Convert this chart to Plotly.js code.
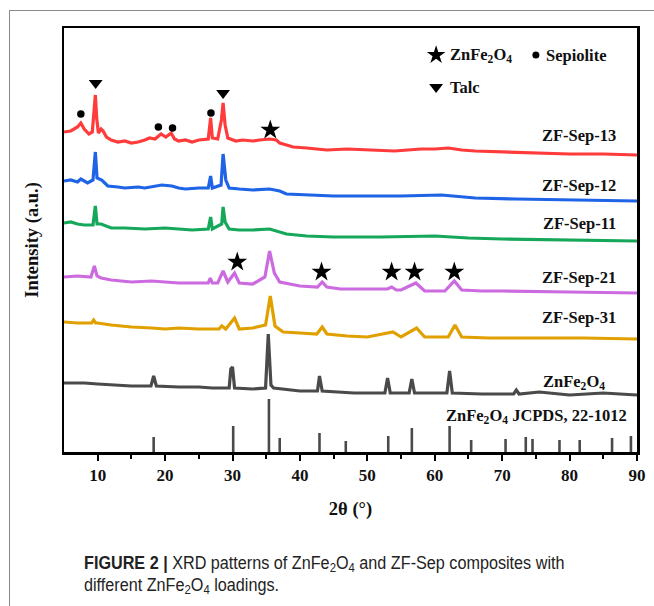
<!DOCTYPE html>
<html>
<head>
<meta charset="utf-8">
<script src="https://cdn.plot.ly/plotly-3.0.1.min.js"></script>
<style>
  html, body { margin: 0; padding: 0; background: #fff; }
  #wrap { position: relative; width: 654px; height: 606px; overflow: hidden; }
  #frameTop { position: absolute; left: 9px; top: 10px; width: 645px; height: 0; border-top: 1px solid #8a8a8a; }
  #frameLeft { position: absolute; left: 9px; top: 10px; width: 0; height: 596px; border-left: 1px solid #8a8a8a; }
  #chart { position: absolute; left: 0; top: 0; width: 654px; height: 606px; }
  #caption { position: absolute; left: 84px; top: 552px; width: 620px;
    font-family: 'Liberation Sans', Arial, sans-serif;
    font-size: 17.5px; line-height: 22px; color: #222;
    transform: scaleX(0.925); transform-origin: 0 0; }
  #caption b { font-weight: bold; }
  #caption sub { font-size: 70%; vertical-align: -0.25em; line-height: 0; }
</style>
</head>
<body>
<div id="wrap">
  <div id="chart"></div>
  <div id="frameTop"></div>
  <div id="frameLeft"></div>
  <div id="caption"><b>FIGURE 2 |</b> XRD patterns of ZnFe<sub>2</sub>O<sub>4</sub> and ZF-Sep composites with<br>different ZnFe<sub>2</sub>O<sub>4</sub> loadings.</div>
</div>
<script>
// ---- Data (2θ in degrees, intensity in arbitrary units incl. vertical offset) ----
const sep13X = [5,6,7,7.5,8,8.7,9.2,9.5,9.65,9.85,10.1,10.5,10.8,11.3,12,13,14,15,16,17,17.7,18.5,19.4,20.1,20.9,21.4,22,23,24,25,26.4,26.75,27.0,27.8,28.35,28.6,28.9,29.3,30.5,31.5,33,34,35.5,36.5,37,38,39,41,44,47,50,54,58,60,62,64,66,70,75,80,85,90];
const sep13Y = [320,321,325,329,323,318,320,352,357,334,319,323,321,315,312,310,311,309,310,312,314,313,318,315,319,313,311,312,310,312,313,334,314,313,332,349,327,314,311,312,311,312,313,312,309,307,305,304,302,303,302,301,303,303,304,302,301,300,299,298,298,297];

const sep12X = [5,6,7,7.5,8.5,9.3,9.65,9.9,10.6,11.5,13,14,16,17,19.5,21,22,23,25,26.4,26.75,27.0,28.3,28.6,29.0,29.5,31,33,35.5,37,38,41,45,50,55,61,66,72,80,90];
const sep12Y = [271,272,270,273,269,272,300,274,272,266,265,264,265,264,267,266,264,263,264,264,276,264,267,298,272,264,263,262,263,261,258,257,256,256,256,257,254,253,252,251];

const sep11X = [5,6,7,8,9.3,9.65,9.9,10.5,12,14,17,20,22,24,26.4,26.75,27.0,28.4,28.6,28.9,29.5,31,33,35.5,38,41,45,52,60,65,70,80,90];
const sep11Y = [229,230,228,227,227,246,228,228,224,224,223,224,223,222,223,235,223,228,245,230,223,222,222,223,218,216,215,215,216,214,213,212,211];

const sep21X = [5,7,9.0,9.5,9.9,10.5,12,15,18,20,22,25,26.4,26.7,27.0,27.8,28.6,29.3,30.3,31,33,34.8,35.5,36.2,37,40,42.6,43.3,44,46,50,53.0,53.6,54.3,55,57.2,58.5,61.5,62.9,64,67,70,80,90];
const sep21Y = [175,176,175,186,176,174,172,170,171,170,169,169,169,174,169,169,181,170,179,169,168,175,201,179,170,166,165,170,165,163,163,163,165,162,162,169,161,161,171,162,161,161,160,159];

const sep31X = [5,7,9.1,9.4,9.7,10,12,15,18,20,22,25,28.0,28.4,29,30.3,31,33,34.9,35.6,36.3,37.5,40,42.5,43.3,44,47,50,53.8,55,57.3,58.5,62,63,64,68,75,82,90];
const sep31Y = [130,129,129,132,129,129,127,125,124,123,124,123,123,126,123,134,123,124,127,156,126,120,119,118,125,118,116,115,120,115,124,115,115,127,115,114,114,114,113];

const znfeX = [5,8,10,13,15,17.9,18.3,18.7,22,25,27,29.5,29.75,30.0,30.3,33,34.9,35.3,35.7,36.1,40,42.6,42.9,43.3,48,52.6,53.0,53.4,56.2,56.6,57.0,61.8,62.2,62.6,67,71.7,72.1,72.5,75.5,80,85,90];
const znfeY = [69,69,68,67,66,66,76,66,65,65,64,64,83,85,64,63,64,118,67,64,61,61,76,61,59,59,74,59,59,73,59,59,81,59,58,58,62,58,60,57,59,57];

// JCPDS 22-1012 reference sticks
const jcpdsX = [18.3,30.1,35.4,37.0,42.9,46.8,53.1,56.6,62.2,65.4,70.5,73.5,74.5,78.5,81.5,86.3,89.1];
const jcpdsH = [15,26,53,14,19,11,16,24,26,12,13,15,13,12,12,14,16];

// Phase markers
const starX = [35.6,30.7,43.2,53.6,57.0,62.9];
const starY = [322,190,180,180,180,180];
const dotX = [7.5,19.0,21.1,26.8];
const dotY = [338,325,324,339];
const triX = [9.7,28.6];
const triY = [369,359];

// Series labels
const labels = ['ZF-Sep-13','ZF-Sep-12','ZF-Sep-11','ZF-Sep-21','ZF-Sep-31','ZnFe<sub>2</sub>O<sub>4</sub>','ZnFe<sub>2</sub>O<sub>4</sub> JCPDS, 22-1012'];
const labelY = [317,267,229,175,135,70,36];

const colors = ['#ff3b3b','#1f63e6','#16a85a','#cc6be0','#e0a000','#4a4a4a'];

// ---- Build traces ----
const series = [[sep13X,sep13Y],[sep12X,sep12Y],[sep11X,sep11Y],[sep21X,sep21Y],[sep31X,sep31Y],[znfeX,znfeY]];
const traces = series.map((s,i) => ({
  x: s[0], y: s[1], type: 'scatter', mode: 'lines',
  line: {color: colors[i], width: 3.2}, hoverinfo: 'skip', showlegend: false
}));

const sx = [], sy = [];
jcpdsX.forEach((x,i) => { sx.push(x, x, null); sy.push(0, jcpdsH[i], null); });
traces.push({x: sx, y: sy, type: 'scatter', mode: 'lines',
  line: {color: '#4a4a4a', width: 2.6}, hoverinfo: 'skip', showlegend: false});

traces.push({x: starX, y: starY, type: 'scatter', mode: 'markers',
  marker: {symbol: 'star', size: 15, color: '#000'}, hoverinfo: 'skip', showlegend: false});
traces.push({x: dotX, y: dotY, type: 'scatter', mode: 'markers',
  marker: {symbol: 'circle', size: 7.5, color: '#000'}, hoverinfo: 'skip', showlegend: false});
traces.push({x: triX, y: triY, type: 'scatter', mode: 'markers',
  marker: {symbol: 'triangle-down', size: 12, color: '#000'}, hoverinfo: 'skip', showlegend: false});

// legend symbols
traces.push({x: [60.2], y: [397], type: 'scatter', mode: 'markers',
  marker: {symbol: 'star', size: 14, color: '#000'}, hoverinfo: 'skip', showlegend: false});
traces.push({x: [75.0], y: [397], type: 'scatter', mode: 'markers',
  marker: {symbol: 'circle', size: 7, color: '#000'}, hoverinfo: 'skip', showlegend: false});
traces.push({x: [60.2], y: [365], type: 'scatter', mode: 'markers',
  marker: {symbol: 'triangle-down', size: 12, color: '#000'}, hoverinfo: 'skip', showlegend: false});

const serif = 'Liberation Serif, Times New Roman, serif';
const annFont = {family: serif, size: 16.5, color: '#111', weight: 'bold'};

const annotations = labels.map((t,i) => ({
  x: i === 6 ? 88.8 : (i === 5 ? 85.5 : 87.2), y: labelY[i], xref: 'x', yref: 'y',
  text: '<b>' + t + '</b>', showarrow: false, xanchor: 'right', yanchor: 'middle',
  font: annFont
}));
annotations.push({x: 62.0, y: 397, xref: 'x', yref: 'y', text: '<b>ZnFe<sub>2</sub>O<sub>4</sub></b>',
  showarrow: false, xanchor: 'left', yanchor: 'middle', font: annFont});
annotations.push({x: 76.2, y: 397, xref: 'x', yref: 'y', text: '<b>Sepiolite</b>',
  showarrow: false, xanchor: 'left', yanchor: 'middle', font: annFont});
annotations.push({x: 62.0, y: 365, xref: 'x', yref: 'y', text: '<b>Talc</b>',
  showarrow: false, xanchor: 'left', yanchor: 'middle', font: annFont});

const layout = {
  width: 654, height: 606,
  margin: {l: 64, r: 17, t: 28, b: 154},
  paper_bgcolor: 'rgba(0,0,0,0)', plot_bgcolor: 'rgba(0,0,0,0)',
  showlegend: false,
  xaxis: {
    range: [5, 90], tickvals: [10,20,30,40,50,60,70,80,90],
    ticks: 'outside', ticklen: 6, tickwidth: 2, tickcolor: '#000',
    minor: {tickvals: [15,25,35,45,55,65,75,85], ticks: 'outside', ticklen: 4, tickwidth: 2, tickcolor: '#000'},
    showline: true, linecolor: '#000', linewidth: 2.5, mirror: true,
    showgrid: false, zeroline: false,
    tickfont: {family: serif, size: 17, color: '#111', weight: 'bold'},
    title: {text: '<b>2θ (°)</b>', font: {family: serif, size: 18.5, color: '#111'}, standoff: 18}
  },
  yaxis: {
    range: [0, 424], showticklabels: false, ticks: '',
    showline: true, linecolor: '#000', linewidth: 2.5, mirror: true,
    showgrid: false, zeroline: false,
    title: {text: '<b>Intensity (a.u.)</b>', font: {family: serif, size: 18.5, color: '#111'}, standoff: 18}
  },
  annotations: annotations
};

Plotly.newPlot('chart', traces, layout, {displayModeBar: false, staticPlot: true});
</script>
</body>
</html>
